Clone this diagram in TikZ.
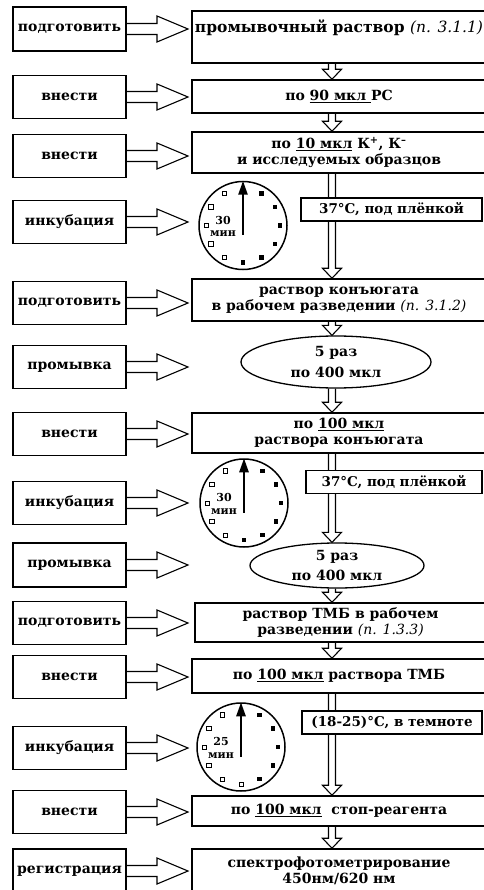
\documentclass[tikz,border=0pt]{standalone}
\usepackage{fontspec}
\setmainfont{DejaVu Serif}
\usetikzlibrary{shapes.geometric,arrows.meta,calc}

\newcommand\pushto[2]{%
  \draw[push] let \p1=(#1.east), \p2=(#2) in
    (\x1,\y1+5.5) -- (\x2-31,\y1+5.5) -- (\x2-31,\y1+13) -- (\x2,\y1)
    -- (\x2-31,\y1-13) -- (\x2-31,\y1-5.5) -- (\x1,\y1-5.5);}
\newcommand\dropto[2]{%
  \draw[push] let \p1=(#1.south -| spine), \p2=(#2.north -| spine) in
    (\x1-3.5,\y1) -- (\x1-3.5,\y2+10) -- (\x1-9.5,\y2+10) -- (\x1,\y2)
    -- (\x1+9.5,\y2+10) -- (\x1+3.5,\y2+10) -- (\x1+3.5,\y1);}
\newcommand\clockface[4]{%
  \node[dial] (#1) at #2 {};
  \foreach \h in {1,...,11}{%
    \ifnum\h>#3\relax
      \draw[tickbox, fill=white] ($(#1)+(30*\h-90:37)$) +(-2.2,-2.2) rectangle +(2.2,2.2);
    \else
      \fill ($(#1)+(30*\h-90:37)$) +(-2.4,-2.4) rectangle +(2.4,2.4);
    \fi}
  \draw[hand] ($(#1)+(0,9.5)$) -- (#1.north);
  \node[dialtext] (#1t) at ($(#1)+(-20,1)$) {#4\\мин};}

\begin{document}
\begin{tikzpicture}[x=1pt,y=-1pt,
    action/.style={draw, line width=1.5pt, minimum width=113pt, minimum height=43pt,
      inner sep=0pt, font=\bfseries\fontsize{14}{16}\selectfont},
    stage/.style={draw, line width=1.5pt, minimum width=294pt, inner sep=0pt,
      align=center, font=\bfseries\fontsize{14}{15.5}\selectfont},
    wash/.style={ellipse, draw, line width=1.3pt, inner sep=0pt, align=center,
      font=\bfseries\fontsize{14}{20.5}\selectfont},
    cond/.style={draw, fill=white, line width=1.3pt, minimum height=23pt, inner sep=0pt,
      font=\bfseries\fontsize{13.5}{15}\selectfont},
    dial/.style={circle, draw, line width=1.5pt, minimum size=88pt, inner sep=0pt},
    dialtext/.style={align=center, inner sep=0pt, font=\bfseries\fontsize{11}{12.5}\selectfont},
    tickbox/.style={line width=0.6pt},
    hand/.style={line width=2.5pt, -{Triangle[width=9pt,length=14pt]}},
    push/.style={line width=1.1pt, line join=miter}]
   \useasboundingbox (0,0) rectangle (483,890);
   \coordinate (tip) at (188,0);
   \coordinate (spine) at (332,0);
   % left column
   \node[action, minimum height=44pt] (A1) at (69.5,29) {подготовить};
   \node[action] (A2) at (69.5,97) {внести\hspace{12pt}};
   \node[action] (A3) at (69.5,156) {внести\hspace{12pt}};
   \node[action] (A4) at (69.5,222) {инкубация};
   \node[action] (A5) at (69.5,303) {подготовить};
   \node[action] (A6) at (69.5,367) {промывка};
   \node[action] (A7) at (69.5,434) {внести\hspace{12pt}};
   \node[action] (A8) at (69.5,503) {инкубация};
   \node[action, minimum height=44pt] (A9) at (69.5,565) {промывка};
   \node[action] (A10) at (69.5,623) {подготовить};
   \node[action] (A11) at (69.5,677) {внести\hspace{12pt}};
   \node[action] (A12) at (69.5,748) {инкубация};
   \node[action] (A13) at (69.5,812) {внести\hspace{12pt}};
   \node[action, minimum height=44pt] (A14) at (69.5,871) {регистрация};
   % right column
   \node[stage, text height=22pt, text depth=30pt, font=\bfseries\fontsize{15.5}{17}\selectfont]
     (B1) at (339,37) {промывочный раствор {\mdseries\itshape(п. 3.1.1)}};
   \node[stage, minimum height=33pt] (B2) at (339,96.5) {по \underline{90 мкл\ }РС};
   \node[stage, minimum height=41pt] (B3) at (339,152.5)
     {по \underline{10 мкл} К\textsuperscript{+}, К\textsuperscript{–}\\и исследуемых образцов};
   \node[stage, minimum height=42pt] (B4) at (339,300)
     {раствор конъюгата\\в рабочем разведении {\mdseries\itshape(п. 3.1.2)}};
   \node[wash, minimum width=190pt, minimum height=52pt] (E1) at (336,362) {5 раз\\по 400 мкл};
   \node[stage, minimum height=40pt] (B5) at (339,433) {по \underline{100 мкл}\\раствора конъюгата};
   \node[wash, minimum width=174pt, minimum height=45pt] (E2) at (337,565.5) {5 раз\\по 400 мкл};
   \node[stage, minimum width=291pt, minimum height=39pt] (B6) at (340.5,622.5)
     {раствор ТМБ в рабочем\\разведении {\mdseries\itshape(п. 1.3.3)}};
   \node[stage, minimum height=34pt] (B7) at (339,676) {по \underline{100 мкл} раствора ТМБ};
   \node[stage, minimum height=30pt] (B8) at (339,811) {по \underline{100 мкл}\ \ стоп-реагента};
   \node[stage, minimum height=44pt] (B9) at (339,871) {спектрофотометрирование\\450нм/620 нм};
   % clocks
   \clockface{C1}{(243,225.5)}{6}{30}
   \clockface{C2}{(244,503)}{6}{30}
   \clockface{C3}{(241,747)}{5}{25}
   % arrows
   \pushto{A1}{tip}
   \pushto{A2}{tip}
   \pushto{A3}{tip}
   \pushto{A4}{tip}
   \pushto{A5}{tip}
   \pushto{A6}{tip}
   \pushto{A7}{tip}
   \pushto{A8}{tip}
   \pushto{A9}{tip}
   \pushto{A10}{tip}
   \pushto{A11}{tip}
   \pushto{A12}{tip}
   \pushto{A13}{tip}
   \pushto{A14}{tip}
   \dropto{B1}{B2}
   \dropto{B2}{B3}
   \dropto{B3}{B4}
   \dropto{B4}{E1}
   \dropto{E1}{B5}
   \dropto{B5}{E2}
   \dropto{E2}{B6}
   \dropto{B6}{B7}
   \dropto{B7}{B8}
   \dropto{B8}{B9}
   % conditions
   \node[cond, minimum width=181pt] (T1) at (391.5,209.5) {37°C, под плёнкой};
   \node[cond, minimum width=176pt] (T2) at (394,482) {37°C, под плёнкой};
   \node[cond, minimum width=180pt] (T3) at (392,722.5) {(18-25)°C, в темноте};
\end{tikzpicture}
\end{document}
